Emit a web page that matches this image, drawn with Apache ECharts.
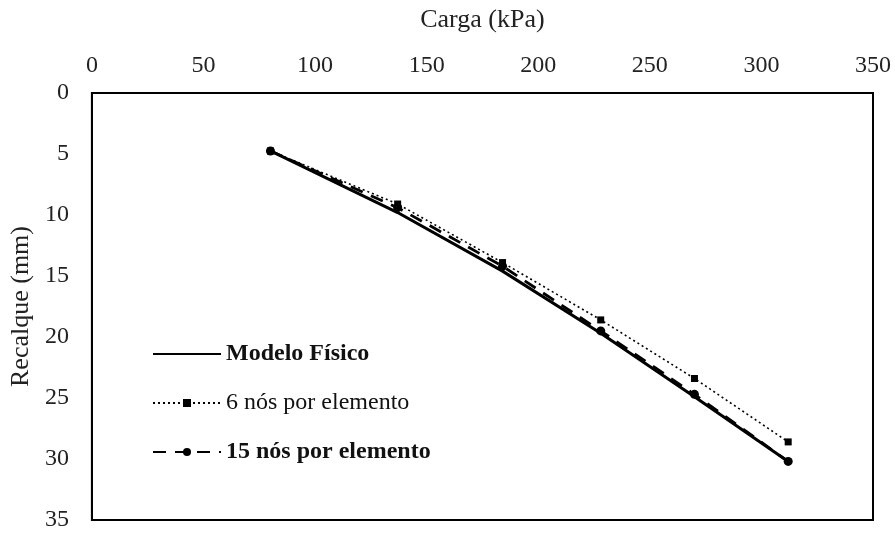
<!DOCTYPE html>
<html><head><meta charset="utf-8">
<script src="https://cdn.jsdelivr.net/npm/echarts@6/dist/echarts.min.js"></script>
<style>html,body{margin:0;padding:0;background:#fff}#c{width:895px;height:534px}</style>
</head><body><div id="c"></div>
<script>
const carga = [80, 137, 184, 228, 270, 312];
const modeloFisico = [4.75, 9.8, 14.6, 19.7, 24.9, 30.2];
const nos6 = [4.75, 9.1, 13.9, 18.6, 23.4, 28.6];
const nos15 = [4.75, 9.4, 14.2, 19.5, 24.7, 30.2];
const names = ['Modelo Físico', '6 nós por elemento', '15 nós por elemento'];
const pairs = arr => carga.map((x, i) => [x, arr[i]]);
const font = 'Liberation Serif';
const chart = echarts.init(document.getElementById('c'));
chart.setOption({
  animation: false,
  backgroundColor: '#fff',
  grid: {left: 91, right: 22, top: 93, bottom: 14, show: true, borderColor: '#000', borderWidth: 2},
  xAxis: {
    type: 'value', position: 'top', min: 0, max: 350, interval: 50,
    name: 'Carga (kPa)', nameLocation: 'middle', nameGap: 60,
    nameTextStyle: {fontFamily: font, fontSize: 26, color: '#222'},
    axisLine: {show: true, lineStyle: {color: '#000', width: 2}},
    axisTick: {show: false}, splitLine: {show: false},
    axisLabel: {fontFamily: font, fontSize: 24, color: '#222', margin: 15}
  },
  yAxis: {
    type: 'value', inverse: true, min: 0, max: 35, interval: 5,
    name: 'Recalque (mm)', nameLocation: 'middle', nameGap: 51, nameRotate: 90,
    nameTextStyle: {fontFamily: font, fontSize: 26, color: '#222'},
    axisLine: {show: true, lineStyle: {color: '#000', width: 2}},
    axisTick: {show: false}, splitLine: {show: false},
    axisLabel: {fontFamily: font, fontSize: 24, color: '#222', margin: 23}
  },
  legend: {
    orient: 'vertical', left: 147, top: 337, itemGap: 25, itemWidth: 68, itemHeight: 10,
    textStyle: {fontFamily: font, fontSize: 24, color: '#111'},
    data: [
      {name: names[0], textStyle: {fontWeight: 'bold'}, itemStyle: {opacity: 0}},
      {name: names[1]},
      {name: names[2], textStyle: {fontWeight: 'bold'}}
    ]
  },
  series: [
    {name: names[0], type: 'line', data: pairs(modeloFisico), symbol: 'circle', showSymbol: false, z: 3,
     lineStyle: {color: '#000', width: 3, type: 'solid'}, itemStyle: {color: '#000'}},
    {name: names[1], type: 'line', data: pairs(nos6), symbol: 'rect', symbolSize: 7, z: 4,
     lineStyle: {color: '#000', width: 1.6, type: [2, 3]}, itemStyle: {color: '#000'}},
    {name: names[2], type: 'line', data: pairs(nos15), symbol: 'circle', symbolSize: 9, z: 5,
     lineStyle: {color: '#000', width: 2.8, type: [13, 9]}, itemStyle: {color: '#000'}}
  ]
});
</script></body></html>
